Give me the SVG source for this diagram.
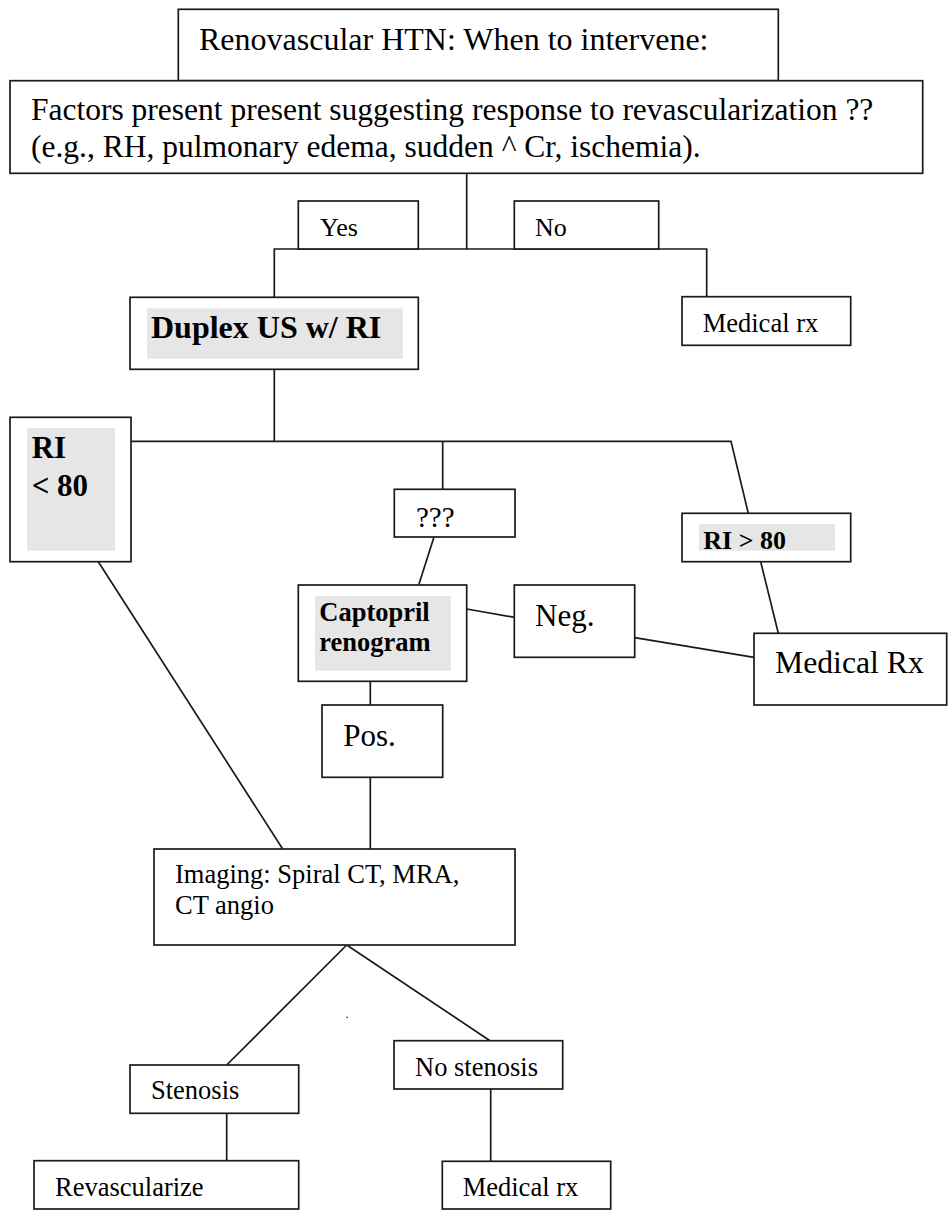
<svg xmlns="http://www.w3.org/2000/svg" width="948" height="1216" viewBox="0 0 948 1216">
<style>
  .box { fill: #ffffff; stroke: #1a1a1a; stroke-width: 1.7; }
  .hl { fill: #e6e6e6; stroke: none; }
  .conn line, .conn polyline { stroke: #1a1a1a; stroke-width: 1.7; fill: none; }
  text { font-family: "Liberation Serif", "Times New Roman", serif; fill: #000000; }
  .s { font-size: 26.5px; }
  .m { font-size: 31.5px; }
  .b { font-weight: bold; }
</style>
<rect x="0" y="0" width="948" height="1216" fill="#ffffff"/>

<g id="connectors" class="conn">
  <line x1="466.7" y1="173.3" x2="466.7" y2="249"/>
  <polyline points="274.3,297.3 274.3,249 706.7,249 706.7,296.7"/>
  <line x1="274.3" y1="369.3" x2="274.3" y2="441.3"/>
  <polyline points="131,441.3 731,441.3 748.3,513.3"/>
  <line x1="442.7" y1="441.3" x2="442.7" y2="489.3"/>
  <line x1="434" y1="537" x2="418.7" y2="585"/>
  <line x1="466.7" y1="609" x2="514.3" y2="617.3"/>
  <line x1="634.7" y1="637.7" x2="754" y2="657.3"/>
  <line x1="760.7" y1="561.7" x2="778.3" y2="633.3"/>
  <line x1="370.3" y1="681.3" x2="370.3" y2="705"/>
  <line x1="370.3" y1="777.3" x2="370.3" y2="849"/>
  <line x1="98.3" y1="561.7" x2="282.7" y2="849"/>
  <line x1="346.7" y1="945" x2="226.7" y2="1065"/>
  <line x1="346.7" y1="945" x2="490" y2="1040.7"/>
  <line x1="226.7" y1="1113.3" x2="226.7" y2="1160.7"/>
  <line x1="490.7" y1="1089" x2="490.7" y2="1161.3"/>
</g>

<g id="title">
  <rect class="box" x="178.3" y="9.3" width="600" height="71.4"/>
  <text x="199" y="50" font-size="32">Renovascular HTN: When to intervene:</text>
</g>

<g id="factors">
  <rect class="box" x="10" y="80.7" width="912.7" height="92.6"/>
  <text class="m" x="31" y="120">Factors present present suggesting response to revascularization ??</text>
  <text class="m" x="31" y="157">(e.g., RH, pulmonary edema, sudden ^ Cr, ischemia).</text>
</g>

<g id="yes">
  <rect class="box" x="298.3" y="201" width="120" height="48"/>
  <text x="320" y="236" font-size="26">Yes</text>
</g>

<g id="no">
  <rect class="box" x="514.3" y="201" width="144.4" height="48"/>
  <text x="535" y="236" font-size="26">No</text>
</g>

<g id="medical-rx-top">
  <rect class="box" x="682" y="296.7" width="168.7" height="48.6"/>
  <text class="s" x="702.7" y="331.7">Medical rx</text>
</g>

<g id="duplex">
  <rect class="box" x="130" y="297.3" width="288.3" height="72"/>
  <rect class="hl" x="147" y="308.3" width="255.7" height="50.4"/>
  <text class="b" x="151" y="338.3" font-size="32">Duplex US w/ RI</text>
</g>

<g id="ri-lt-80">
  <rect class="box" x="10" y="417.3" width="121" height="144.4"/>
  <rect class="hl" x="27" y="428" width="88" height="122.7"/>
  <text class="b" x="31.7" y="457.7" font-size="31">RI</text>
  <text class="b" x="31.7" y="495.7" font-size="31">&lt; 80</text>
</g>

<g id="unknown">
  <rect class="box" x="394.3" y="489.3" width="120.7" height="47.7"/>
  <text x="416" y="526.7" font-size="29">???</text>
</g>

<g id="ri-gt-80">
  <rect class="box" x="682" y="513.3" width="168.7" height="48.4"/>
  <rect class="hl" x="699" y="524" width="136" height="26.7"/>
  <text class="b" x="703.3" y="549" font-size="26">RI &gt; 80</text>
</g>

<g id="captopril">
  <rect class="box" x="298.3" y="585" width="168.4" height="96.3"/>
  <rect class="hl" x="315" y="596" width="135.7" height="74.7"/>
  <text class="b s" x="319.3" y="620.7">Captopril</text>
  <text class="b s" x="319.3" y="650.7">renogram</text>
</g>

<g id="neg">
  <rect class="box" x="514.3" y="585" width="120.4" height="72.3"/>
  <text x="535" y="625.7" font-size="31">Neg.</text>
</g>

<g id="medical-rx-mid">
  <rect class="box" x="754" y="633.3" width="192.7" height="71.7"/>
  <text x="775" y="673.3" font-size="31.7">Medical Rx</text>
</g>

<g id="pos">
  <rect class="box" x="322" y="705" width="120.7" height="72.3"/>
  <text x="343.3" y="745.7" font-size="31">Pos.</text>
</g>

<g id="imaging">
  <rect class="box" x="154" y="849" width="361" height="96"/>
  <text class="s" x="175" y="883.3">Imaging: Spiral CT, MRA,</text>
  <text class="s" x="175" y="914">CT angio</text>
</g>

<text x="345.5" y="1018" font-size="12">.</text>

<g id="stenosis">
  <rect class="box" x="130" y="1065" width="168.7" height="48.3"/>
  <text class="s" x="151" y="1099.3">Stenosis</text>
</g>

<g id="no-stenosis">
  <rect class="box" x="394" y="1040.7" width="168.7" height="48.3"/>
  <text class="s" x="415" y="1075.7">No stenosis</text>
</g>

<g id="revascularize">
  <rect class="box" x="34" y="1160.7" width="264.7" height="48.3"/>
  <text class="s" x="55" y="1195.7">Revascularize</text>
</g>

<g id="medical-rx-bottom">
  <rect class="box" x="442.3" y="1161.3" width="168.4" height="47.7"/>
  <text class="s" x="462.7" y="1195.7">Medical rx</text>
</g>
</svg>
